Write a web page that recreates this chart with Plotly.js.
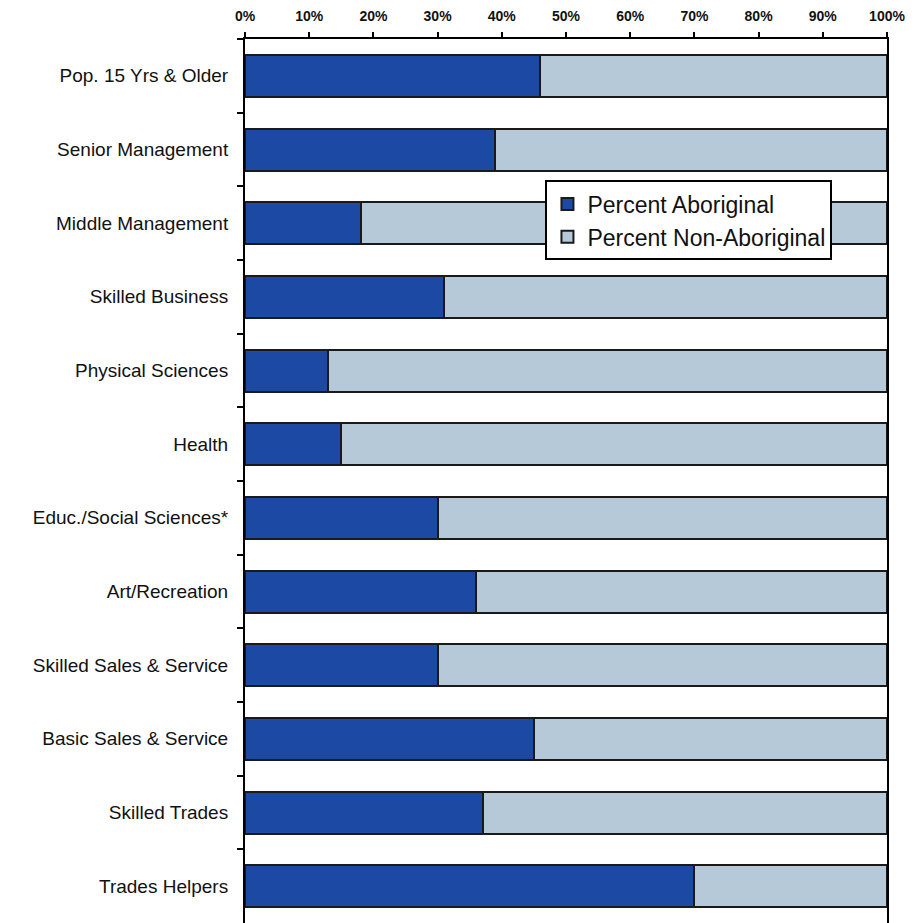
<!DOCTYPE html>
<html>
<head>
<meta charset="utf-8">
<script src="https://cdn.plot.ly/plotly-3.0.1.min.js"></script>
<style>html,body{margin:0;padding:0;background:#fff;}#chart{width:916px;height:923px;}</style>
</head>
<body>
<div id="chart"></div>
<script>
const categories = [
  "Pop. 15 Yrs & Older",
  "Senior Management",
  "Middle Management",
  "Skilled Business",
  "Physical Sciences",
  "Health",
  "Educ./Social Sciences*",
  "Art/Recreation",
  "Skilled Sales & Service",
  "Basic Sales & Service",
  "Skilled Trades",
  "Trades Helpers"
];
const percentAboriginal = [46, 39, 18, 31, 13, 15, 30, 36, 30, 45, 37, 70];
const percentNonAboriginal = percentAboriginal.map(v => 100 - v);
const xTickValues = [0, 10, 20, 30, 40, 50, 60, 70, 80, 90, 100];
const xTickLabels = ["0%", "10%", "20%", "30%", "40%", "50%", "60%", "70%", "80%", "90%", "100%"];

const traces = [
  {
    type: "bar", orientation: "h", name: "Percent Aboriginal",
    y: categories, x: percentAboriginal,
    marker: {color: "#1c49a4", line: {color: "#1a1a1a", width: 2}},
    hoverinfo: "x+y"
  },
  {
    type: "bar", orientation: "h", name: "Percent Non-Aboriginal",
    y: categories, x: percentNonAboriginal,
    marker: {color: "#b6c9d8", line: {color: "#1a1a1a", width: 2}},
    hoverinfo: "x+y"
  }
];

const layout = {
  width: 916, height: 923,
  margin: {l: 245, r: 29, t: 39, b: 0, pad: 0},
  paper_bgcolor: "#fff", plot_bgcolor: "#fff",
  barmode: "stack", bargap: 0.43,
  font: {family: "Arial, 'Liberation Sans', sans-serif", color: "#000"},
  xaxis: {
    side: "top", range: [0, 100], fixedrange: true,
    tickvals: xTickValues, ticktext: xTickLabels,
    ticks: "outside", ticklen: 5, tickwidth: 2, tickcolor: "#000",
    ticklabelstandoff: 5,
    tickfont: {size: 14, family: "Arial, 'Liberation Sans', sans-serif", weight: "bold", color: "#111"},
    showline: true, linecolor: "#000", linewidth: 2,
    showgrid: false, zeroline: false
  },
  yaxis: {
    autorange: "reversed", type: "category",
    ticks: "outside", tickson: "boundaries", ticklen: 6, tickwidth: 2, tickcolor: "#000",
    ticklabelstandoff: 11,
    tickfont: {size: 19, family: "Arial, 'Liberation Sans', sans-serif", color: "#111"},
    showline: true, linecolor: "#000", linewidth: 2, mirror: true,
    showgrid: false, zeroline: false
  },
  legend: {
    x: 0.468, y: 0.84, xanchor: "left", yanchor: "top",
    bgcolor: "#fff", bordercolor: "#000", borderwidth: 2,
    font: {size: 23, family: "Arial, 'Liberation Sans', sans-serif", color: "#111"},
    traceorder: "normal", tracegroupgap: 0, itemwidth: 30
  },
  showlegend: true
};

Plotly.newPlot("chart", traces, layout, {displayModeBar: false, staticPlot: true});
</script>
</body>
</html>
